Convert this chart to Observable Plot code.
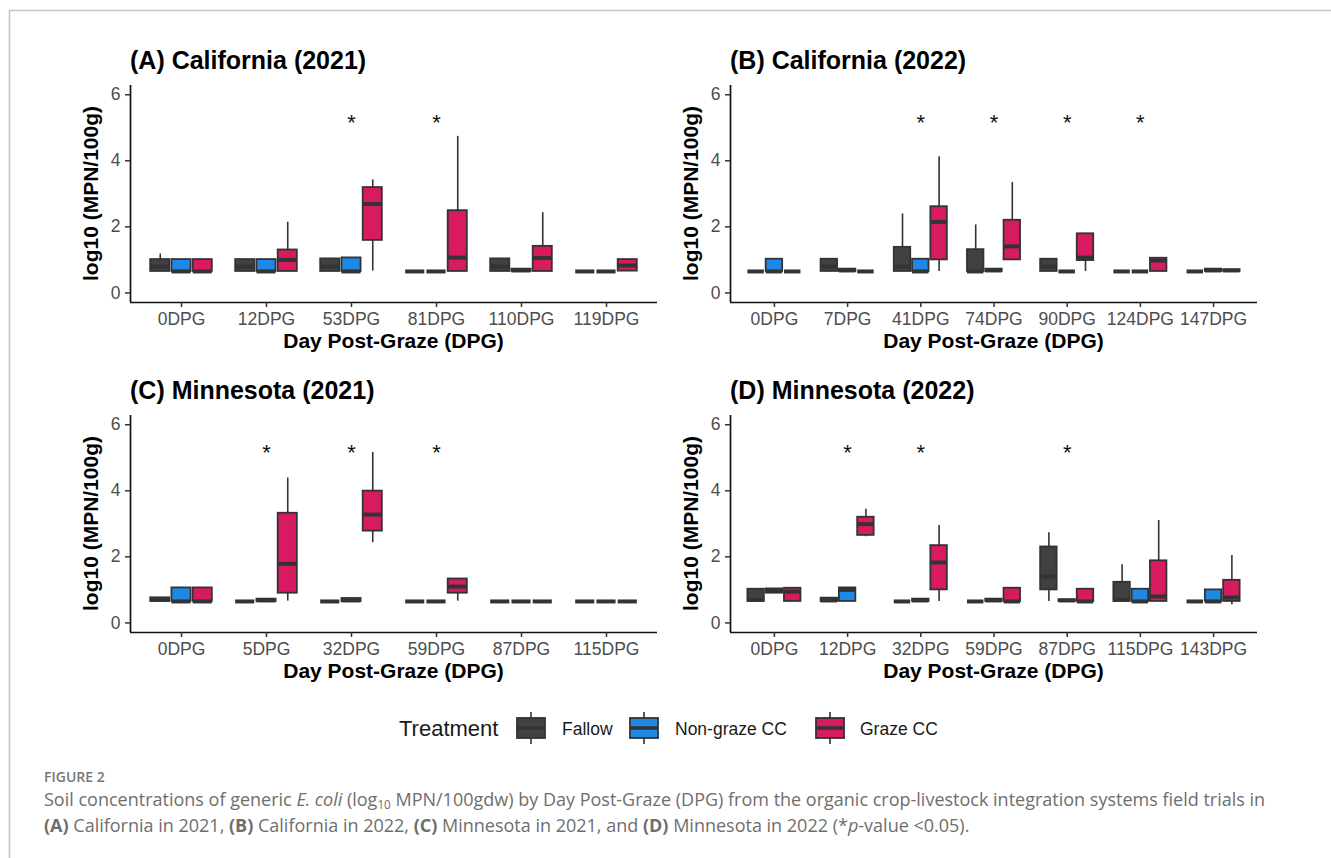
<!DOCTYPE html>
<html>
<head>
<meta charset="utf-8">
<script src="https://cdn.jsdelivr.net/npm/d3@7"></script>
<script src="https://cdn.jsdelivr.net/npm/@observablehq/plot@0.6"></script>
<style>
  html, body { margin: 0; padding: 0; background: #fff; }
  #page { position: relative; width: 1331px; height: 858px; overflow: hidden; background: #fff; }
  .panel { position: absolute; }
  #overlay { position: absolute; left: 0; top: 0; pointer-events: none; }
</style>
</head>
<body>
<div id="page"></div>
<script>
// ---------------- DATA ----------------
const treatments = ["Fallow", "Non-graze CC", "Graze CC"];
const treatmentColors = ["#414141", "#1E88E5", "#D81B60"];
const yTicks = [0, 2, 4, 6];
const starLevel = 5.34;

// Each stat row: [min, q1, median, q3, max] of log10 (MPN/100g)

// (A) California (2021)
const caDays2021 = ["0DPG", "12DPG", "53DPG", "81DPG", "110DPG", "119DPG"];
const caFallow2021 = [[0.65,0.65,0.80,1.01,1.18],[0.65,0.65,0.80,1.01,1.01],[0.65,0.65,0.80,1.03,1.03],[0.65,0.65,0.65,0.65,0.65],[0.65,0.65,0.80,1.03,1.03],[0.65,0.65,0.65,0.65,0.65]];
const caNonGraze2021 = [[0.65,0.65,0.65,1.01,1.01],[0.65,0.65,0.65,1.01,1.01],[0.65,0.65,0.65,1.06,1.06],[0.65,0.65,0.65,0.65,0.65],[0.65,0.65,0.68,0.72,0.72],[0.65,0.65,0.65,0.65,0.65]];
const caGraze2021 = [[0.65,0.65,0.65,1.01,1.01],[0.65,0.65,1.00,1.30,2.14],[0.66,1.59,2.69,3.19,3.42],[0.65,0.65,1.07,2.49,4.74],[0.65,0.65,1.06,1.41,2.43],[0.66,0.66,0.83,1.01,1.01]];
const caSig2021 = ["53DPG", "81DPG"];

// (B) California (2022)
const caDays2022 = ["0DPG", "7DPG", "41DPG", "74DPG", "90DPG", "124DPG", "147DPG"];
const caFallow2022 = [[0.65,0.65,0.65,0.65,0.65],[0.65,0.65,0.80,1.02,1.02],[0.65,0.65,0.80,1.38,2.39],[0.65,0.65,0.65,1.31,2.06],[0.65,0.65,0.80,1.02,1.02],[0.65,0.65,0.65,0.65,0.65],[0.65,0.65,0.65,0.65,0.65]];
const caNonGraze2022 = [[0.65,0.65,0.65,1.02,1.02],[0.65,0.65,0.68,0.72,0.72],[0.65,0.65,0.65,1.02,1.02],[0.65,0.65,0.68,0.72,0.72],[0.65,0.65,0.65,0.65,0.65],[0.65,0.65,0.65,0.65,0.65],[0.65,0.65,0.68,0.72,0.72]];
const caGraze2022 = [[0.65,0.65,0.65,0.65,0.65],[0.65,0.65,0.65,0.65,0.65],[0.65,1.00,2.15,2.61,4.12],[1.00,1.00,1.41,2.20,3.34],[0.65,0.98,1.07,1.79,1.79],[0.65,0.65,0.98,1.05,1.05],[0.65,0.65,0.68,0.70,0.70]];
const caSig2022 = ["41DPG", "74DPG", "90DPG", "124DPG"];

// (C) Minnesota (2021)
const mnDays2021 = ["0DPG", "5DPG", "32DPG", "59DPG", "87DPG", "115DPG"];
const mnFallow2021 = [[0.65,0.65,0.70,0.76,0.76],[0.65,0.65,0.65,0.65,0.65],[0.65,0.65,0.65,0.65,0.65],[0.65,0.65,0.65,0.65,0.65],[0.65,0.65,0.65,0.65,0.65],[0.65,0.65,0.65,0.65,0.65]];
const mnNonGraze2021 = [[0.65,0.65,0.65,1.06,1.06],[0.65,0.65,0.68,0.72,0.72],[0.65,0.65,0.68,0.74,0.74],[0.65,0.65,0.65,0.65,0.65],[0.65,0.65,0.65,0.65,0.65],[0.65,0.65,0.65,0.65,0.65]];
const mnGraze2021 = [[0.65,0.65,0.65,1.06,1.06],[0.66,0.90,1.79,3.32,4.39],[2.43,2.78,3.28,3.99,5.16],[0.66,0.90,1.10,1.33,1.33],[0.65,0.65,0.65,0.65,0.65],[0.65,0.65,0.65,0.65,0.65]];
const mnSig2021 = ["5DPG", "32DPG", "59DPG"];

// (D) Minnesota (2022)
const mnDays2022 = ["0DPG", "12DPG", "32DPG", "59DPG", "87DPG", "115DPG", "143DPG"];
const mnFallow2022 = [[0.65,0.65,0.70,1.02,1.02],[0.65,0.65,0.68,0.75,0.75],[0.65,0.65,0.65,0.65,0.65],[0.65,0.65,0.65,0.65,0.65],[0.65,1.00,1.41,2.30,2.73],[0.65,0.65,0.70,1.23,1.76],[0.65,0.65,0.65,0.65,0.65]];
const mnNonGraze2022 = [[0.90,0.90,0.97,1.03,1.03],[0.65,0.65,1.00,1.06,1.06],[0.65,0.65,0.68,0.72,0.72],[0.65,0.65,0.68,0.72,0.72],[0.65,0.65,0.68,0.70,0.70],[0.65,0.65,0.65,1.02,1.02],[0.65,0.65,0.65,1.00,1.00]];
const mnGraze2022 = [[0.65,0.65,0.95,1.05,1.05],[2.61,2.65,2.99,3.20,3.44],[0.65,1.00,1.83,2.34,2.95],[0.65,0.65,0.65,1.05,1.05],[0.65,0.65,0.65,1.02,1.02],[0.65,0.65,0.80,1.88,3.10],[0.55,0.65,0.77,1.29,2.04]];
const mnSig2022 = ["12DPG", "32DPG", "87DPG"];

const panelTitles = ["(A) California (2021)", "(B) California (2022)", "(C) Minnesota (2021)", "(D) Minnesota (2022)"];
const xTitle = "Day Post-Graze (DPG)";
const yTitle = "log10 (MPN/100g)";
const legendTitle = "Treatment";

// ---------------- LAYOUT ----------------
const PLOT_W = 527, PLOT_H = 217;
const ML = 50, MR = 10, MT = 8, MB = 36;
const yDomain = [-0.29, 6.28];
const DODGE = [-0.25, 0, 0.25];
const HW = 0.1125;
const FONT = '"Liberation Sans", Arial, Helvetica, sans-serif';

const page = document.getElementById("page");

const panels = [
  {days: caDays2021, stats: [caFallow2021, caNonGraze2021, caGraze2021], sig: caSig2021, left: 80, top: 77},
  {days: caDays2022, stats: [caFallow2022, caNonGraze2022, caGraze2022], sig: caSig2022, left: 680, top: 77},
  {days: mnDays2021, stats: [mnFallow2021, mnNonGraze2021, mnGraze2021], sig: mnSig2021, left: 80, top: 407},
  {days: mnDays2022, stats: [mnFallow2022, mnNonGraze2022, mnGraze2022], sig: mnSig2022, left: 680, top: 407}
];

function makePanel(p) {
  const n = p.days.length;
  const xDomain = [-0.6, n - 0.4];
  const rows = [];
  p.stats.forEach((arr, j) => arr.forEach((s, i) => rows.push({
    i, t: treatments[j], x: i + DODGE[j],
    min: s[0], q1: s[1], med: s[2], q3: s[3], max: s[4]
  })));
  const sigRows = p.sig.map(d => ({i: p.days.indexOf(d), level: starLevel}));
  return Plot.plot({
    width: ML + PLOT_W + MR,
    height: MT + PLOT_H + MB,
    marginLeft: ML, marginRight: MR, marginTop: MT, marginBottom: MB,
    style: {fontFamily: FONT, fontSize: "17.5px", background: "transparent", color: "#333", overflow: "visible"},
    x: {domain: xDomain},
    y: {domain: yDomain},
    color: {domain: treatments, range: treatmentColors},
    marks: [
      Plot.ruleX(rows, {x: "x", y1: "min", y2: "max", stroke: "#333", strokeWidth: 1.6}),
      Plot.rect(rows, {x1: d => d.x - HW, x2: d => d.x + HW, y1: "q1", y2: "q3", fill: "t", stroke: "#333", strokeWidth: 1.8}),
      Plot.ruleY(rows, {y: "med", x1: d => d.x - HW, x2: d => d.x + HW, stroke: "#333", strokeWidth: 4}),
      Plot.text(sigRows, {x: "i", y: "level", text: () => "*", fontSize: 22, fill: "#111", dy: 6}),
      Plot.ruleX([xDomain[0]], {stroke: "#111", strokeWidth: 1.7}),
      Plot.ruleY([yDomain[0]], {stroke: "#111", strokeWidth: 1.7}),
      Plot.axisX({ticks: d3.range(n), tickFormat: i => p.days[i], tickSize: 5, tickPadding: 5,
        stroke: "#333", fill: "#4d4d4d", strokeWidth: 1.5, fontSize: 17.5, label: null}),
      Plot.axisY({ticks: yTicks, tickFormat: d3.format("d"), tickSize: 5, tickPadding: 5,
        stroke: "#333", fill: "#4d4d4d", strokeWidth: 1.5, fontSize: 17.5, label: null})
    ]
  });
}

panels.forEach(p => {
  const div = document.createElement("div");
  div.className = "panel";
  div.style.left = p.left + "px";
  div.style.top = p.top + "px";
  div.appendChild(makePanel(p));
  page.appendChild(div);
});

// ---------------- OVERLAY TEXT ----------------
const svg = d3.select(page).append("svg").attr("id", "overlay")
  .attr("width", 1331).attr("height", 858).attr("font-family", FONT);

// frame
svg.append("path").attr("d", "M9.5,858V10.5H1331").attr("fill", "none")
  .attr("stroke", "#c6c6c6").attr("stroke-width", 1.6);

panels.forEach((p, k) => {
  const x0 = p.left + ML, y0 = p.top + MT;
  svg.append("text").attr("x", x0).attr("y", y0 - 16)
    .attr("font-size", 25).attr("font-weight", "bold").attr("fill", "#000").text(panelTitles[k]);
  svg.append("text").attr("x", x0 + PLOT_W / 2).attr("y", y0 + PLOT_H + 46)
    .attr("text-anchor", "middle").attr("font-size", 21).attr("font-weight", "bold").attr("fill", "#000").text(xTitle);
  svg.append("text").attr("transform", `translate(${x0 - 32},${y0 + PLOT_H / 2}) rotate(-90)`)
    .attr("text-anchor", "middle").attr("font-size", 21).attr("font-weight", "bold").attr("fill", "#000").text(yTitle);
});

// legend
const leg = svg.append("g");
leg.append("text").attr("x", 399).attr("y", 736).attr("font-size", 22).attr("fill", "#1a1a1a").text(legendTitle);
const keyX = [517, 630, 816], labX = [562, 675, 860];
treatments.forEach((t, j) => {
  const kx = keyX[j];
  leg.append("line").attr("x1", kx + 14).attr("x2", kx + 14).attr("y1", 712).attr("y2", 744)
    .attr("stroke", "#333").attr("stroke-width", 1.6);
  leg.append("rect").attr("x", kx).attr("y", 718).attr("width", 28).attr("height", 20)
    .attr("fill", treatmentColors[j]).attr("stroke", "#333").attr("stroke-width", 1.8);
  leg.append("line").attr("x1", kx).attr("x2", kx + 28).attr("y1", 728).attr("y2", 728)
    .attr("stroke", "#333").attr("stroke-width", 3.5);
  leg.append("text").attr("x", labX[j]).attr("y", 734.5).attr("font-size", 17.5).attr("fill", "#1a1a1a").text(t);
});

// caption
const CAP_FONT = '"Open Sans", "Noto Sans", sans-serif';
const capColor = "#6e6e6e";
svg.append("text").attr("x", 44).attr("y", 782).attr("font-family", CAP_FONT).attr("font-size", 14)
  .attr("font-weight", 600).attr("fill", "#777").text("FIGURE 2");

const line1 = svg.append("text").attr("x", 44).attr("y", 806).attr("font-family", CAP_FONT).attr("fill", capColor).attr("font-size", 16);
line1.append("tspan").text("Soil concentrations of generic ");
line1.append("tspan").attr("font-style", "italic").text("E. coli");
line1.append("tspan").text(" (log");
line1.append("tspan").attr("font-size", "0.65em").attr("dy", 3).text("10");
line1.append("tspan").attr("dy", -3).text(" MPN/100gdw) by Day Post-Graze (DPG) from the organic crop-livestock integration systems field trials in");

const line2 = svg.append("text").attr("x", 44).attr("y", 832).attr("font-family", CAP_FONT).attr("fill", capColor).attr("font-size", 16);
const parts2 = [["(A)", true], [" California in 2021, ", false], ["(B)", true], [" California in 2022, ", false],
  ["(C)", true], [" Minnesota in 2021, and ", false], ["(D)", true], [" Minnesota in 2022 (*", false]];
parts2.forEach(([s, b]) => { const ts = line2.append("tspan").text(s); if (b) ts.attr("font-weight", "bold"); });
line2.append("tspan").attr("font-style", "italic").text("p");
line2.append("tspan").text("-value <0.05).");

// fit caption font size so line 1 spans the same width as the reference
const len1 = line1.node().getComputedTextLength();
if (len1 > 0) {
  const fs = Math.max(12, Math.min(18, 16 * 1233 / len1));
  line1.attr("font-size", fs);
  line2.attr("font-size", fs);
}
</script>
</body>
</html>
